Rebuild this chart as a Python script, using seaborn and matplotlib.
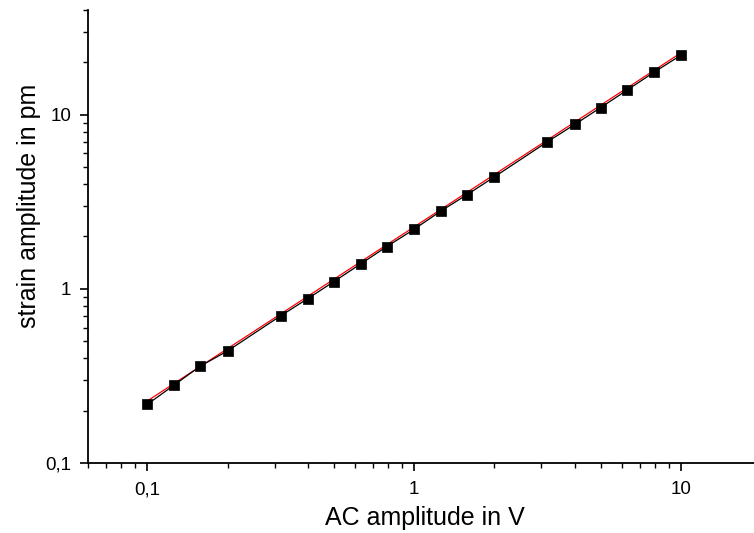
import numpy as np
import pandas as pd
import matplotlib
matplotlib.use("Agg")
import matplotlib.pyplot as plt
import matplotlib.ticker as mticker
import seaborn as sns

ac_amplitude = [0.1, 0.126, 0.158, 0.2, 0.316, 0.4, 0.5, 0.63, 0.79, 1.0,
                1.26, 1.58, 2.0, 3.16, 4.0, 5.0, 6.3, 7.9, 10.0]
strain_amplitude = [0.217, 0.28, 0.36, 0.44, 0.70, 0.88, 1.10, 1.39, 1.75, 2.2,
                    2.8, 3.48, 4.4, 7.0, 8.8, 11.0, 13.9, 17.5, 22.0]

# linear fit (slope 1 on log-log), drawn in red
fit_coef = 2.27

df = pd.DataFrame({"x": ac_amplitude, "y": strain_amplitude})
fit_df = pd.DataFrame({"x": ac_amplitude, "y": [fit_coef * v for v in ac_amplitude]})

sns.set_theme(style="ticks")
plt.rcParams["font.family"] = ["Liberation Sans", "DejaVu Sans"]
plt.rcParams.update({"text.color": "black", "axes.labelcolor": "black",
                     "xtick.color": "black", "ytick.color": "black"})

fig = plt.figure(figsize=(7.54, 5.33), dpi=100)
ax = fig.add_axes([0.1167, 0.1313, 0.893, 0.85])
ax.set_xscale("log")
ax.set_yscale("log")

sns.lineplot(data=fit_df, x="x", y="y", ax=ax, color="red", linewidth=0.9, zorder=2)
sns.lineplot(data=df, x="x", y="y", ax=ax, color="black", linewidth=0.9, zorder=3)
sns.scatterplot(data=df, x="x", y="y", ax=ax, color="black", marker="s", s=55,
                edgecolor="black", linewidth=0.5, zorder=4)

ax.set_xlim(0.06, 20)
ax.set_ylim(0.1, 40)

fmt = mticker.FuncFormatter(lambda v, p: ("%g" % v).replace(".", ","))
for axis in (ax.xaxis, ax.yaxis):
    axis.set_major_locator(mticker.LogLocator(base=10))
    axis.set_minor_locator(mticker.LogLocator(base=10, subs=np.arange(2, 10)))
    axis.set_major_formatter(fmt)
    axis.set_minor_formatter(mticker.NullFormatter())

ax.tick_params(which="major", direction="out", length=6, width=1.2, labelsize=13.5)
ax.tick_params(axis="x", which="major", pad=7)
ax.tick_params(axis="y", which="major", pad=6)
ax.tick_params(which="minor", direction="out", length=3.5, width=1.0)

sns.despine(ax=ax)
for s in ("left", "bottom"):
    ax.spines[s].set_linewidth(1.3)
    ax.spines[s].set_color("black")

ax.set_xlabel("AC amplitude in V", fontsize=18, labelpad=6)
ax.set_ylabel("strain amplitude in pm", fontsize=18)
ax.yaxis.set_label_coords(-0.07, 0.567)

fig.savefig("out.png", dpi=100)
